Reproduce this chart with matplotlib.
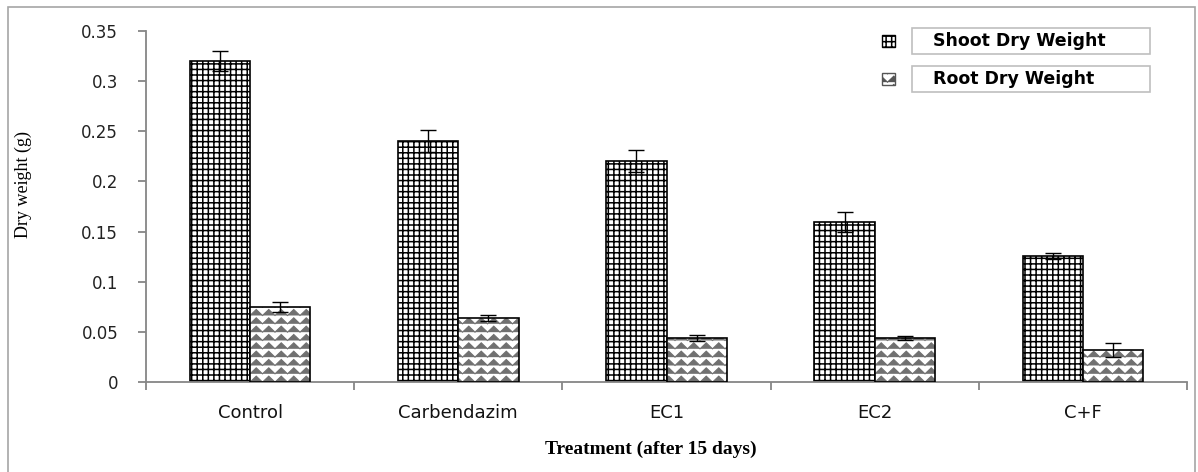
import warnings
warnings.filterwarnings("ignore")
import numpy as np
import matplotlib
matplotlib.use("Agg")
import matplotlib.pyplot as plt
from matplotlib import hatch as mhatch
from matplotlib.path import Path
from matplotlib.patches import Rectangle

# ---------------- data ----------------
categories = ["Control", "Carbendazim", "EC1", "EC2", "C+F"]
shoot_dry = [0.320, 0.240, 0.220, 0.160, 0.126]
shoot_err = [0.010, 0.011, 0.011, 0.010, 0.003]
root_dry = [0.075, 0.064, 0.044, 0.044, 0.032]
root_err = [0.005, 0.003, 0.003, 0.002, 0.007]
series_labels = ["Shoot Dry Weight", "Root Dry Weight"]
y_ticks = [0, 0.05, 0.1, 0.15, 0.2, 0.25, 0.3, 0.35]
y_ticklabels = ["0", "0.05", "0.1", "0.15", "0.2", "0.25", "0.3", "0.35"]
x_title = "Treatment (after 15 days)"
y_title = "Dry weight (g)"


# ---------------- custom zig-zag hatch ('z') ----------------
class ZigZagHatch(mhatch.HatchPatternBase):
    def __init__(self, hatch, density):
        n = hatch.count('z')
        self.rows = 12 * n
        self.segs = 16
        self.num_vertices = self.rows * (self.segs + 1)

    def set_vertices_and_codes(self, vertices, codes):
        amp = 0.03
        k = 0
        for r in range(self.rows):
            y0 = (r + 0.5) / self.rows
            for j in range(self.segs + 1):
                vertices[k, 0] = j / self.segs
                vertices[k, 1] = y0 + (amp if j % 2 else -amp)
                codes[k] = Path.MOVETO if j == 0 else Path.LINETO
                k += 1


mhatch._hatch_types.append(ZigZagHatch)

W, H = 1198, 472
fig = plt.figure(figsize=(W / 100, H / 100), dpi=100)
fig.patch.set_facecolor("white")

# outer frame
fig.add_artist(Rectangle((8 / W, -0.01), (1195 - 8) / W, 1.01 - 7 / H,
                         transform=fig.transFigure, fill=False,
                         edgecolor="#a6a6a6", lw=1.2))

ax_l, ax_r, ax_t, ax_b = 146, 1187, 31, 382
ax = fig.add_axes([ax_l / W, 1 - ax_b / H, (ax_r - ax_l) / W, (ax_b - ax_t) / H])

x = np.arange(len(categories))
bw = 0.29
grey = "#868686"

# shoot bars
plt.rcParams['hatch.linewidth'] = 1.1
ax.bar(x - bw / 2, shoot_dry, bw, color="white", edgecolor="black",
       hatch="+++", lw=1.2, zorder=2)
# root bars (grey zigzag hatch + black outline)
plt.rcParams['hatch.linewidth'] = 0.8
ax.bar(x + bw / 2, root_dry, bw, color="white", edgecolor="#707070",
       hatch="z", lw=0, zorder=2)
ax.bar(x + bw / 2, root_dry, bw, fill=False, edgecolor="black", lw=1.2, zorder=3)

ax.errorbar(x - bw / 2, shoot_dry, yerr=shoot_err, fmt="none", ecolor="black",
            elinewidth=1.0, capsize=5.5, capthick=1.0, zorder=4)
ax.errorbar(x + bw / 2, root_dry, yerr=root_err, fmt="none", ecolor="black",
            elinewidth=1.0, capsize=5.5, capthick=1.0, zorder=4)

ax.set_xlim(-0.5, len(categories) - 0.5)
ax.set_ylim(0, 0.35)
ax.set_yticks(y_ticks)
ax.set_yticklabels(y_ticklabels, fontsize=12, family="DejaVu Sans", color="#222222")
ax.set_xticks(x)
ax.set_xticklabels(categories, fontsize=13, family="DejaVu Sans", color="#111111")
ax.set_xticks(np.arange(len(categories) + 1) - 0.5, minor=True)
ax.tick_params(axis="x", which="major", length=0, pad=16)
ax.tick_params(axis="x", which="minor", length=6, width=1.3, color=grey, direction="out")
ax.tick_params(axis="y", which="major", length=6, width=1.3, color=grey, pad=14)

for s in ["top", "right"]:
    ax.spines[s].set_visible(False)
for s in ["left", "bottom"]:
    ax.spines[s].set_color(grey)
    ax.spines[s].set_linewidth(1.3)

ax.set_ylabel(y_title, family="Liberation Serif", fontsize=13)
ax.yaxis.set_label_coords((32 - ax_l) / (ax_r - ax_l), (ax_b - 184) / (ax_b - ax_t))
fig.text(651 / W, 1 - 449 / H, x_title, family="Liberation Serif", fontsize=14,
         fontweight="bold", ha="center", va="center")

# legend (two separate boxes)
leg_y = [41, 79]
hatches = ["+++", "z"]
leg_hlw = [1.1, 0.8]
for i, lab in enumerate(series_labels):
    cy = leg_y[i]
    fig.add_artist(Rectangle((912 / W, 1 - (cy + 13) / H), (1150 - 912) / W, 26 / H,
                             transform=fig.transFigure, fill=False,
                             edgecolor="#bfbfbf", lw=1.2))
    plt.rcParams['hatch.linewidth'] = leg_hlw[i]
    fig.add_artist(Rectangle((882 / W, 1 - (cy + 6) / H), 13 / W, 12 / H,
                             transform=fig.transFigure, facecolor="white",
                             edgecolor="black" if i == 0 else "#555555",
                             hatch=hatches[i], lw=1.0))
    fig.text(933 / W, 1 - cy / H, lab, family="DejaVu Sans", fontweight="bold",
             fontsize=12.5, ha="left", va="center", color="black")

fig.savefig("out.png", dpi=100, facecolor="white")
